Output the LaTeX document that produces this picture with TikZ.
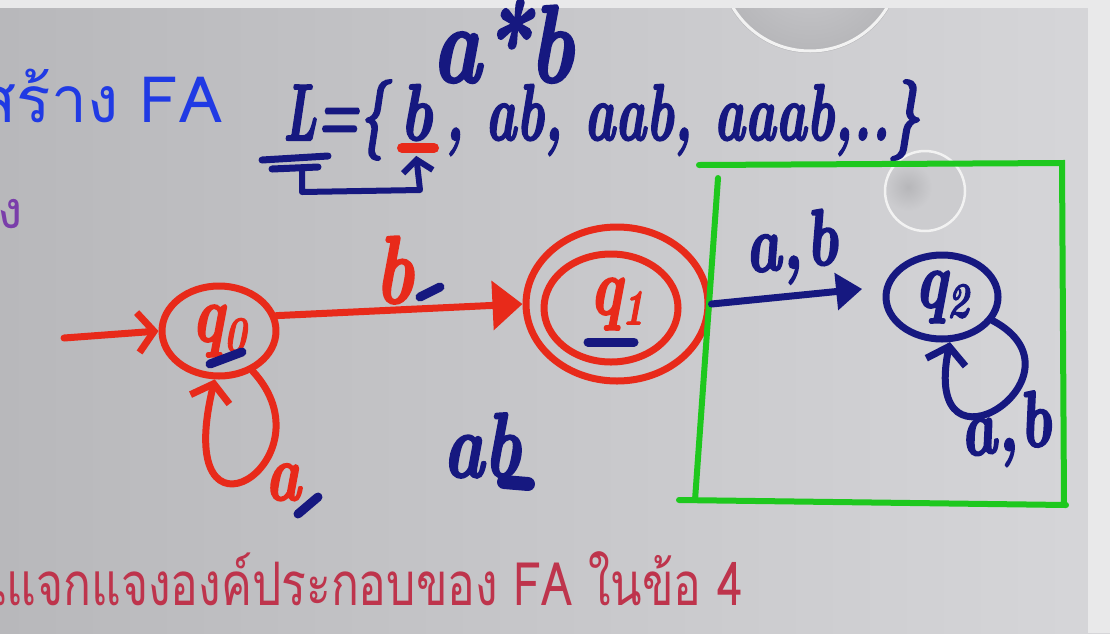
\documentclass[tikz,border=0pt]{standalone}
\usepackage{fontspec}
\usepackage{graphicx}
\usetikzlibrary{arrows.meta,shapes.geometric}
\newfontfamily\thaifont[Script=Thai]{Loma}
\newfontfamily\handfont[Extension=.otf,UprightFont=*-bolditalic,FakeBold=2.5]{lmroman10}
\definecolor{penred}{RGB}{232,42,26}
\definecolor{pennavy}{RGB}{22,24,128}
\definecolor{pengreen}{RGB}{30,200,30}
\definecolor{titleblue}{RGB}{32,58,228}
\definecolor{subpurple}{RGB}{122,62,170}
\definecolor{notered}{RGB}{190,52,76}
\definecolor{slideL}{RGB}{184,184,187}
\definecolor{slideR}{RGB}{214,214,217}
\definecolor{slideedge}{RGB}{233,233,234}
\definecolor{pinface}{RGB}{204,204,207}
\definecolor{pinshade}{RGB}{182,182,185}
\definecolor{pinrim}{RGB}{242,242,242}
% handwriting
\newcommand{\hw}[2][80]{\scalebox{.75}[1]{\fontsize{#1}{#1}\selectfont\handfont #2}}
\newcommand{\qlab}[1]{\hw{q}\raisebox{-10pt}{\hw[50]{#1}}}
\begin{document}
\begin{tikzpicture}[x=1pt,y=-1pt,>=Triangle,
  pen/.style={line width=7pt,line cap=round,line join=round},
  redstate/.style={ellipse,draw=penred,pen,inner sep=0pt,text=penred},
  navystate/.style={ellipse,draw=pennavy,pen,inner sep=0pt,text=pennavy},
  hand/.style={inner sep=0pt,anchor=base west},
  slidetext/.style={inner sep=0pt,anchor=base east},
  navymark/.style={pennavy,line width=9pt,line cap=round},
  openhead/.style={-{Straight Barb[length=16pt,width=40pt]}}]
\useasboundingbox (0,0) rectangle (1110,633);
\shade[left color=slideL,right color=slideR] (0,0) rectangle (1110,633);
\fill[slideedge] (1088,0) rectangle (1110,633);
% pins
\shade[inner color=pinface,outer color=pinshade] (810,-39) circle[radius=92];
\draw[pinrim,line width=3pt] (810,-39) circle[radius=90];
\fill[pinface] (925,191) circle[radius=41];
\shade[inner color=pinshade,outer color=pinface] (908,187) circle[radius=24];
\draw[pinrim,line width=2.5pt] (925,191) circle[radius=40];
\fill[slideedge] (0,0) rectangle (1110,8);
% slide text
\node[slidetext,text=titleblue,font=\thaifont\fontsize{64}{64}\selectfont] (title) at (222,122) {สร้าง FA};
\node[slidetext,text=subpurple,font=\thaifont\fontsize{52}{52}\selectfont] (sub) at (23,228) {ง};
\node[slidetext,text=notered,font=\thaifont\fontsize{60}{60}\selectfont] (task) at (743,605)
  {\scalebox{.77}[1]{นแจกแจงองค์ประกอบของ FA ในข้อ 4}};
% language
\node[hand,text=pennavy] (regex) at (432,82) {\hw[110]{a*b}};
\node[hand,text=pennavy] (Lopen) at (283,140) {\scalebox{.8}[1]{\hw{L=\{}}};
\node[hand,text=pennavy] (bone) at (400,140) {\hw{b}};
\node[hand,text=pennavy] (Lrest) at (445,140) {\scalebox{.87}[1]{\hw{, ab, aab, aaab,..\}}}};
\draw[pennavy,line width=7pt,line cap=round] (262,160) -- (328,156) (272,169) -- (318,167);
\draw[penred,line width=10pt,line cap=round] (402,148) -- (434,148);
\coordinate (Lfoot) at (302,166);
\draw[pennavy,line width=6pt,line join=round,-{Straight Barb[length=12pt,width=30pt]}]
  (Lfoot) -- (302,192) -- (420,190) -- ([yshift=-15pt]bone.south);
% red part
\coordinate (start) at (64,338);
\node[redstate,minimum width=114pt,minimum height=90pt] (q0) at (219,331) {\qlab{0}};
\node[redstate,minimum width=182pt,minimum height=154pt] (q1) at (617,304) {\qlab{1}};
\draw[penred,pen] ([xshift=-6pt,yshift=-4pt]q1.center) ellipse [x radius=67,y radius=54];
\draw[penred,pen,openhead] (start) -- (q0.west);
\draw[penred,pen,-{Triangle[length=30pt,width=48pt]}] (q0.15) -- (q1.west);
\draw[penred,pen,openhead] (q0.-50) .. controls (335,460) and (170,565) .. (q0.-95);
\node[hand,text=penred] (lb) at (375,303) {\hw[96]{b}};
\node[hand,text=penred] (la) at (265,500) {\hw{a}};
% dead state
\draw[pengreen,line width=6pt,line cap=round] (699,165) -- (1062,163) -- (1064,505)
  (679,500) -- (1066,505) (718,178) -- (695,500);
\node[navystate,minimum width=112pt,minimum height=84pt] (q2) at (942,297) {\qlab{2}};
\draw[pennavy,pen,-{Triangle[length=26pt,width=36pt]},shorten >=22pt] (q1.east) -- (q2.170);
\draw[pennavy,pen,openhead] (q2.-25) .. controls (1095,375) and (920,490) .. (q2.-80);
\node[hand,text=pennavy,rotate=6] (lab12) at (747,273) {\hw{a,\hspace{6pt}b}};
\node[hand,text=pennavy,rotate=8] (lab22) at (963,457) {\hw{a,\hspace{4pt}b}};
\node[hand,text=pennavy] (ab) at (443,477) {\hw[92]{ab}};
% pen marks
\foreach \ax/\ay/\bx/\by in {210/364/242/352,420/297/440/287,298/514/318/497,588/342/634/342}
  \draw[navymark] (\ax,\ay) -- (\bx,\by);
\draw[pennavy,line width=14pt,line cap=round] (504,482) -- (528,484);
\end{tikzpicture}
\end{document}
